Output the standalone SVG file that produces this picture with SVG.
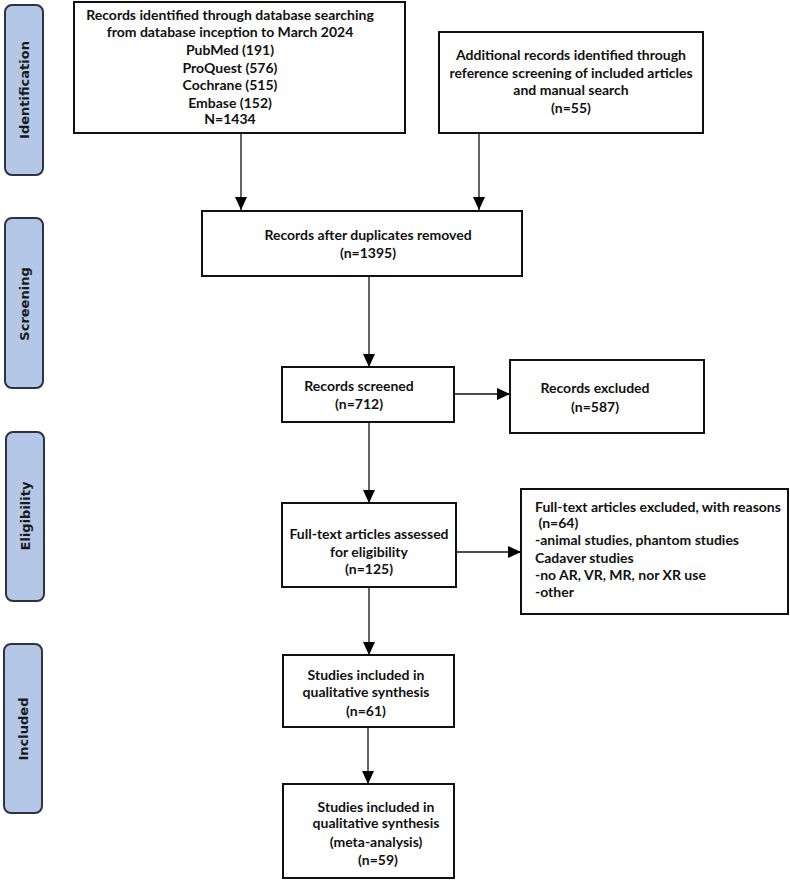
<svg xmlns="http://www.w3.org/2000/svg" width="790" height="880" viewBox="0 0 790 880">
<defs>
<style>
.box{fill:#fff;stroke:#111;stroke-width:2}
.tab{fill:#b4c7e7;stroke:#2a3443;stroke-width:2}
.t{font-family:Lato,"Liberation Sans",sans-serif;font-weight:bold;font-size:14px;fill:#111}
.c{text-anchor:middle}
.tl{font-family:"DejaVu Sans",sans-serif;font-weight:bold;font-size:13px;fill:#1a1a1a;text-anchor:middle}
.ln{stroke:#111;stroke-width:1.3;fill:none}
</style>
<marker id="ah" markerWidth="13" markerHeight="12" refX="13" refY="6" orient="auto" markerUnits="userSpaceOnUse">
<path d="M0,0 L13,6 L0,12 Z" fill="#000"/>
</marker>
</defs>
<rect width="790" height="880" fill="#fff"/>

<g id="tab-identification">
<rect class="tab" x="5" y="5" width="38" height="170" rx="7"/>
<text class="tl" transform="translate(28.5,90) rotate(-90)">Identification</text>
</g>
<g id="tab-screening">
<rect class="tab" x="5" y="218" width="38" height="170" rx="7"/>
<text class="tl" transform="translate(28.5,304) rotate(-90)">Screening</text>
</g>
<g id="tab-eligibility">
<rect class="tab" x="6" y="432" width="38" height="169" rx="7"/>
<text class="tl" transform="translate(29.5,516) rotate(-90)">Eligibility</text>
</g>
<g id="tab-included">
<rect class="tab" x="4" y="644" width="38" height="169" rx="7"/>
<text class="tl" transform="translate(27.5,729) rotate(-90)">Included</text>
</g>

<g id="connectors">
<line class="ln" x1="241" y1="133" x2="241" y2="210" marker-end="url(#ah)"/>
<line class="ln" x1="479" y1="133" x2="479" y2="210" marker-end="url(#ah)"/>
<line class="ln" x1="369" y1="276" x2="369" y2="367" marker-end="url(#ah)"/>
<line class="ln" x1="454" y1="394" x2="510" y2="394" marker-end="url(#ah)"/>
<line class="ln" x1="369" y1="422" x2="369" y2="503" marker-end="url(#ah)"/>
<line class="ln" x1="456" y1="552" x2="521" y2="552" marker-end="url(#ah)"/>
<line class="ln" x1="369" y1="587" x2="369" y2="655" marker-end="url(#ah)"/>
<line class="ln" x1="368" y1="727" x2="368" y2="784" marker-end="url(#ah)"/>
</g>

<g id="node-db">
<rect class="box" x="74" y="2" width="331" height="131"/>
<text class="t c"><tspan x="230" y="20">Records identified through database searching</tspan><tspan x="230" y="37">from database inception to March 2024</tspan><tspan x="230" y="55">PubMed (191)</tspan><tspan x="230" y="73">ProQuest (576)</tspan><tspan x="230" y="90">Cochrane (515)</tspan><tspan x="230" y="108">Embase (152)</tspan><tspan x="230" y="124">N=1434</tspan></text>
</g>

<g id="node-additional">
<rect class="box" x="439" y="32" width="264" height="101"/>
<text class="t c"><tspan x="571" y="60">Additional records identified through</tspan><tspan x="571" y="78">reference screening of included articles</tspan><tspan x="571" y="95">and manual search</tspan><tspan x="571" y="113">(n=55)</tspan></text>
</g>

<g id="node-duplicates">
<rect class="box" x="202" y="211" width="320" height="65"/>
<text class="t c"><tspan x="368" y="240">Records after duplicates removed</tspan><tspan x="368" y="258">(n=1395)</tspan></text>
</g>

<g id="node-screened">
<rect class="box" x="282" y="367" width="172" height="55"/>
<text class="t c"><tspan x="359" y="391">Records screened</tspan><tspan x="359" y="409">(n=712)</tspan></text>
</g>

<g id="node-excluded">
<rect class="box" x="510" y="360" width="194" height="73"/>
<text class="t c"><tspan x="595" y="393">Records excluded</tspan><tspan x="595" y="412">(n=587)</tspan></text>
</g>

<g id="node-fulltext">
<rect class="box" x="282" y="503" width="174" height="84"/>
<text class="t c"><tspan x="369" y="539">Full-text articles assessed</tspan><tspan x="369" y="557">for eligibility</tspan><tspan x="369" y="574">(n=125)</tspan></text>
</g>

<g id="node-ft-excluded">
<rect class="box" x="521" y="489" width="267" height="125"/>
<text class="t"><tspan x="535" y="512">Full-text articles excluded, with reasons</tspan><tspan x="535" y="528"> (n=64)</tspan><tspan x="535" y="545">-animal studies, phantom studies</tspan><tspan x="535" y="563">Cadaver studies</tspan><tspan x="535" y="580">-no AR, VR, MR, nor XR use</tspan><tspan x="535" y="597">-other</tspan></text>
</g>

<g id="node-qualitative">
<rect class="box" x="283" y="655" width="171" height="72"/>
<text class="t c"><tspan x="366" y="680">Studies included in</tspan><tspan x="366" y="697">qualitative synthesis</tspan><tspan x="366" y="716">(n=61)</tspan></text>
</g>

<g id="node-meta">
<rect class="box" x="283" y="784" width="171" height="94"/>
<text class="t c"><tspan x="376" y="812">Studies included in</tspan><tspan x="376" y="828">qualitative synthesis</tspan><tspan x="376" y="847">(meta-analysis)</tspan><tspan x="378" y="865">(n=59)</tspan></text>
</g>
</svg>
